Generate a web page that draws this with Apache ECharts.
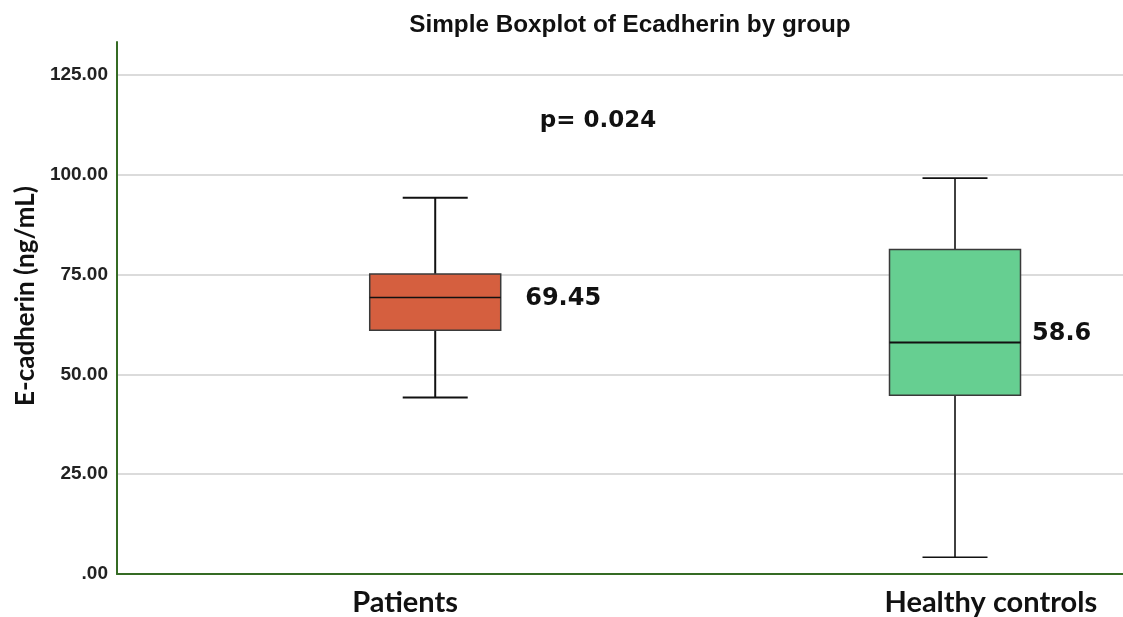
<!DOCTYPE html>
<html>
<head>
<meta charset="utf-8">
<script src="https://cdn.jsdelivr.net/npm/echarts@6/dist/echarts.min.js"></script>
<style>
html,body{margin:0;padding:0;background:#fff;}
#chart{width:1123px;height:617px;}
</style>
</head>
<body>
<div id="chart"></div>
<script>
// ---- data ----
const categories = ['Patients', 'Healthy controls'];
const whiskerLow = [44.2, 4.2];
const q1 = [61.1, 44.8];
const median = [69.3, 58.0];
const q3 = [75.2, 81.3];
const whiskerHigh = [94.3, 99.2];
const medianLabels = ['69.45', '58.6'];
const pValueText = 'p= 0.024';
const yTicks = [0, 25, 50, 75, 100, 125];
const titleText = 'Simple Boxplot of Ecadherin by group';
const yAxisName = 'E-cadherin (ng/mL)';

// ---- styles ----
const boxColors = ['#d55f3f', '#66cf91'];
const axisGreen = '#356b24';

const boxData = categories.map((c, i) => [i, whiskerLow[i], q1[i], median[i], q3[i], whiskerHigh[i]]);

const chart = echarts.init(document.getElementById('chart'));
chart.setOption({
  animation: false,
  backgroundColor: '#fff',
  grid: { left: 117, right: 0, top: 42, bottom: 38 },
  xAxis: {
    type: 'value',
    min: -0.6122,
    max: 1.3232,
    axisLine: { show: true, onZero: false, lineStyle: { color: axisGreen, width: 2 } },
    axisTick: { show: false },
    splitLine: { show: false },
    axisLabel: {
      customValues: [-0.058, 1.069],
      formatter: v => v < 0.5 ? categories[0] : categories[1],
      margin: 14,
      fontFamily: 'Lato',
      fontWeight: 'bold',
      fontSize: 29,
      color: '#111'
    }
  },
  yAxis: {
    type: 'value',
    min: 0,
    max: 133.3,
    interval: 25,
    name: yAxisName,
    nameLocation: 'middle',
    nameGap: 71,
    nameTextStyle: { fontFamily: 'Lato', fontWeight: 'bold', fontSize: 26, color: '#111', padding: [0, 0, 0, 24] },
    axisLine: { show: true, onZero: false, lineStyle: { color: axisGreen, width: 2 } },
    axisTick: { show: false },
    splitLine: { show: true, showMaxLine: false, showMinLine: false, lineStyle: { color: '#cfcfcf', width: 1.5 } },
    axisLabel: {
      customValues: yTicks,
      formatter: v => v === 0 ? '.00' : v.toFixed(2),
      margin: 9,
      fontFamily: 'Liberation Sans',
      fontWeight: 'bold',
      fontSize: 19,
      color: '#222'
    }
  },
  graphic: [
    { type: 'text', x: 630, y: 25, style: { text: titleText, align: 'center', verticalAlign: 'middle', font: 'bold 24.3px "Liberation Sans"', fill: '#111' } },
    { type: 'text', x: 598, y: 121, style: { text: pValueText, align: 'center', verticalAlign: 'middle', font: 'bold 23px "DejaVu Sans"', fill: '#111' } }
  ],
  series: [{
    type: 'custom',
    data: boxData,
    encode: { x: 0, y: [1, 2, 3, 4, 5] },
    renderItem: function (params, api) {
      const i = params.dataIndex;
      const x = api.value(0);
      const lo = api.coord([x, api.value(1)]);
      const b1 = api.coord([x, api.value(2)]);
      const md = api.coord([x, api.value(3)]);
      const b3 = api.coord([x, api.value(4)]);
      const hi = api.coord([x, api.value(5)]);
      const cx = lo[0];
      const bw = 131, cw = 65;
      const lineStyle = { stroke: '#111', lineWidth: i === 0 ? 2 : 1.6 };
      const labelDx = i === 0 ? 90 : 77;
      const labelDy = i === 0 ? 1 : -9;
      return {
        type: 'group',
        children: [
          { type: 'line', shape: { x1: cx, y1: hi[1], x2: cx, y2: b3[1] }, style: lineStyle },
          { type: 'line', shape: { x1: cx, y1: b1[1], x2: cx, y2: lo[1] }, style: lineStyle },
          { type: 'line', shape: { x1: cx - cw / 2, y1: hi[1], x2: cx + cw / 2, y2: hi[1] }, style: lineStyle },
          { type: 'line', shape: { x1: cx - cw / 2, y1: lo[1], x2: cx + cw / 2, y2: lo[1] }, style: lineStyle },
          { type: 'rect', shape: { x: cx - bw / 2, y: b3[1], width: bw, height: b1[1] - b3[1] },
            style: { fill: boxColors[i], stroke: '#3a3a3a', lineWidth: 1.5 } },
          { type: 'line', shape: { x1: cx - bw / 2, y1: md[1], x2: cx + bw / 2, y2: md[1] }, style: { stroke: '#111', lineWidth: i === 0 ? 1.5 : 2.2 } },
          { type: 'text', x: cx + labelDx, y: md[1] + labelDy,
            style: { text: medianLabels[i], align: 'left', verticalAlign: 'middle', font: 'bold 24px "DejaVu Sans"', fill: '#111' } }
        ]
      };
    }
  }]
});
</script>
</body>
</html>
